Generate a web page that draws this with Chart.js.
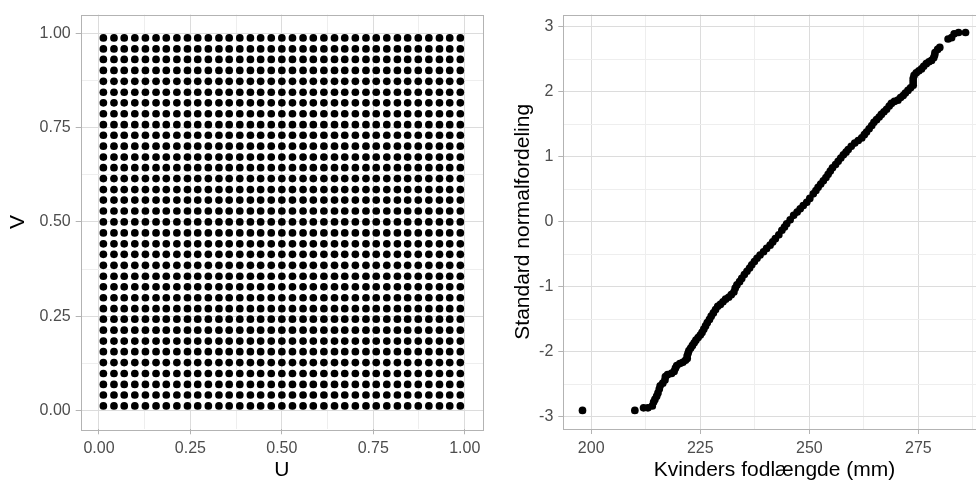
<!DOCTYPE html>
<html>
<head>
<meta charset="utf-8">
<script src="https://cdn.jsdelivr.net/npm/chart.js@4.4.1/dist/chart.umd.min.js"></script>
<style>
  html, body { margin: 0; padding: 0; background: #fff; overflow: hidden; }
  #wrap { position: relative; width: 976px; height: 483px; overflow: hidden; }
  canvas { position: absolute; top: 0; }
  #uvChart { left: 0; }
  #footChart { left: 490px; }
</style>
</head>
<body>
<div id="wrap">
  <canvas id="uvChart" width="490" height="483"></canvas>
  <canvas id="footChart" width="500" height="483"></canvas>
</div>
<script>
"use strict";

// left panel: regular grid of (U, V)
const uLevels = [0.012, 0.041, 0.069, 0.098, 0.127, 0.156, 0.184, 0.213, 0.242, 0.270, 0.299, 0.328,
  0.356, 0.385, 0.414, 0.442, 0.471, 0.500, 0.529, 0.558, 0.586, 0.615, 0.644, 0.672, 0.701, 0.730,
  0.758, 0.787, 0.816, 0.844, 0.873, 0.902, 0.931, 0.959, 0.988];
const vLevels = [0.012, 0.041, 0.069, 0.098, 0.127, 0.156, 0.184, 0.213, 0.242, 0.270, 0.299, 0.328,
  0.356, 0.385, 0.414, 0.442, 0.471, 0.500, 0.529, 0.558, 0.586, 0.615, 0.644, 0.672, 0.701, 0.730,
  0.758, 0.787, 0.816, 0.844, 0.873, 0.902, 0.931, 0.959, 0.988];
const uTicks = [0, 0.25, 0.5, 0.75, 1];
const vTicks = [0, 0.25, 0.5, 0.75, 1];

// right panel: QQ plot, foot length (mm) vs standard normal quantile
const footLength = [198, 210, 212, 213, 214, 214.3, 214.6, 215, 215.3, 215.6, 215.8, 216.4, 216.9, 217,
  217.5, 218.4, 219, 219.3, 219.6, 220.3, 221, 221.6, 222, 222, 222.2, 222.4, 222.8, 223.2, 223.6, 224,
  224.5, 225, 225.4, 225.8, 226.2, 226.6, 227.1, 227.5, 228, 228.5, 229, 229.6, 230.2, 230.8, 231.5,
  232.1, 232.7, 233, 233.4, 234, 234.5, 235.1, 235.7, 236.3, 236.8, 237.4, 238, 238.7, 239.5, 240.2,
  241, 241.6, 242.2, 243, 243.7, 244.3, 244.8, 245.6, 246.4, 247.2, 247.9, 248.6, 249.4, 250.1, 250.9,
  251.5, 252, 252.6, 253.2, 253.8, 254.3, 254.8, 255.3, 256, 256.6, 257.2, 257.8, 258.4, 258.9, 259.6,
  260.4, 261.2, 262, 262.6, 263.1, 263.7, 264.3, 264.8, 265.4, 266, 266.5, 267.1, 267.7, 268.3, 268.8,
  269.5, 270.3, 270.9, 271.5, 272, 272.6, 273.2, 273.8, 273.8, 273.8, 274, 274.5, 275.1, 275.7, 276.2,
  276.8, 277.4, 278, 278.5, 278.7, 278.8, 279.4, 279.9, 281.8, 282.6, 283.2, 284.2, 285.8];
const normalQuantile = [-2.90, -2.90, -2.86, -2.86, -2.83, -2.77, -2.73, -2.68, -2.63, -2.57, -2.52,
  -2.48, -2.43, -2.38, -2.35, -2.33, -2.30, -2.25, -2.21, -2.18, -2.16, -2.13, -2.10, -2.06, -2.02,
  -1.98, -1.94, -1.90, -1.86, -1.82, -1.78, -1.74, -1.70, -1.65, -1.60, -1.55, -1.50, -1.45, -1.40,
  -1.35, -1.30, -1.27, -1.23, -1.19, -1.16, -1.12, -1.08, -1.02, -0.97, -0.92, -0.87, -0.81, -0.76,
  -0.71, -0.66, -0.61, -0.56, -0.51, -0.46, -0.41, -0.36, -0.31, -0.26, -0.20, -0.13, -0.08, -0.03,
  0.03, 0.10, 0.15, 0.20, 0.25, 0.30, 0.36, 0.43, 0.48, 0.53, 0.58, 0.63, 0.68, 0.73, 0.78, 0.83,
  0.88, 0.93, 0.98, 1.03, 1.07, 1.11, 1.16, 1.21, 1.25, 1.29, 1.34, 1.38, 1.43, 1.48, 1.53, 1.57,
  1.61, 1.65, 1.69, 1.73, 1.78, 1.82, 1.85, 1.87, 1.91, 1.94, 1.98, 2.02, 2.06, 2.10, 2.15, 2.20,
  2.25, 2.29, 2.32, 2.35, 2.39, 2.43, 2.46, 2.48, 2.52, 2.56, 2.60, 2.65, 2.68, 2.81, 2.83, 2.89,
  2.91, 2.91];
const footTicks = [200, 225, 250, 275];
const quantileTicks = [-3, -2, -1, 0, 1, 2, 3];

const FONT = "'Liberation Sans', Arial, sans-serif";

// major ticks plus the halfway minor lines that fall inside the panel
function withMinors(major, min, max) {
  const step = major[1] - major[0];
  const out = major.slice();
  for (let i = -1; i < major.length; i++) {
    const m = major[0] + step * (i + 0.5);
    if (m > min && m < max) out.push(m);
  }
  return out.sort((a, b) => a - b);
}

function axisOptions({ min, max, major, fmt, title, titlePad, fit }) {
  const all = withMinors(major, min, max);
  const isMajor = (c) => c.tick && major.includes(c.tick.value);
  return {
    type: "linear",
    min,
    max,
    afterBuildTicks: (s) => { s.ticks = all.map((v) => ({ value: v })); },
    afterFit: fit,
    ticks: {
      autoSkip: false,
      maxRotation: 0,
      padding: 5,
      color: "#4d4d4d",
      font: { family: FONT, size: 16 },
      callback: (v) => (major.includes(v) ? fmt(v) : ""),
    },
    grid: {
      color: (c) => (isMajor(c) ? "#dcdcdc" : "#eeeeee"),
      lineWidth: 1,
      tickLength: 5,
      tickWidth: 1,
      tickColor: (c) => (isMajor(c) ? "#b3b3b3" : "rgba(0,0,0,0)"),
    },
    border: { display: false },
    title: { display: true, text: title, color: "#000", font: { family: FONT, size: 21 }, padding: titlePad },
  };
}

const panelBorder = {
  id: "panelBorder",
  afterDatasetsDraw(chart) {
    const { ctx, chartArea: a } = chart;
    ctx.save();
    ctx.strokeStyle = "#b3b3b3";
    ctx.lineWidth = 1;
    ctx.strokeRect(Math.round(a.left) + 0.5, Math.round(a.top) + 0.5,
      Math.round(a.right - a.left), Math.round(a.bottom - a.top));
    ctx.restore();
  },
};

function scatterChart(canvasId, points, xAxis, yAxis, padding) {
  return new Chart(document.getElementById(canvasId), {
    type: "scatter",
    data: {
      datasets: [{
        data: points,
        pointRadius: 3.85,
        pointBackgroundColor: "#000",
        pointBorderWidth: 0,
        clip: false,
      }],
    },
    options: {
      responsive: false,
      animation: false,
      events: [],
      layout: { padding },
      plugins: { legend: { display: false }, tooltip: { enabled: false } },
      scales: { x: xAxis, y: yAxis },
    },
    plugins: [panelBorder],
  });
}

const uvPoints = [];
vLevels.forEach((v) => uLevels.forEach((u) => uvPoints.push({ x: u, y: v })));

scatterChart("uvChart", uvPoints,
  axisOptions({ min: -0.05, max: 1.05, major: uTicks, fmt: (v) => v.toFixed(2), title: "U",
    titlePad: { top: 0, bottom: 0 }, fit: (s) => { s.height = 53.7; } }),
  axisOptions({ min: -0.05, max: 1.05, major: vTicks, fmt: (v) => v.toFixed(2), title: "V",
    titlePad: { top: 5.4, bottom: 0 }, fit: (s) => { s.width = 80.7; } }),
  { left: 0, top: 9.5, right: 7, bottom: 0 });

const qqPoints = footLength.map((x, i) => ({ x, y: normalQuantile[i] }));

scatterChart("footChart", qqPoints,
  axisOptions({ min: 193.6, max: 290.4, major: footTicks, fmt: (v) => String(v), title: "Kvinders fodlængde (mm)",
    titlePad: { top: 0, bottom: 0 }, fit: (s) => { s.height = 54; } }),
  axisOptions({ min: -3.185, max: 3.185, major: quantileTicks, fmt: (v) => String(v), title: "Standard normalfordeling",
    titlePad: { top: 20.4, bottom: 0 }, fit: (s) => { s.width = 73.3; } }),
  { left: 0, top: 9.7, right: 4.4, bottom: 0 });
</script>
</body>
</html>
